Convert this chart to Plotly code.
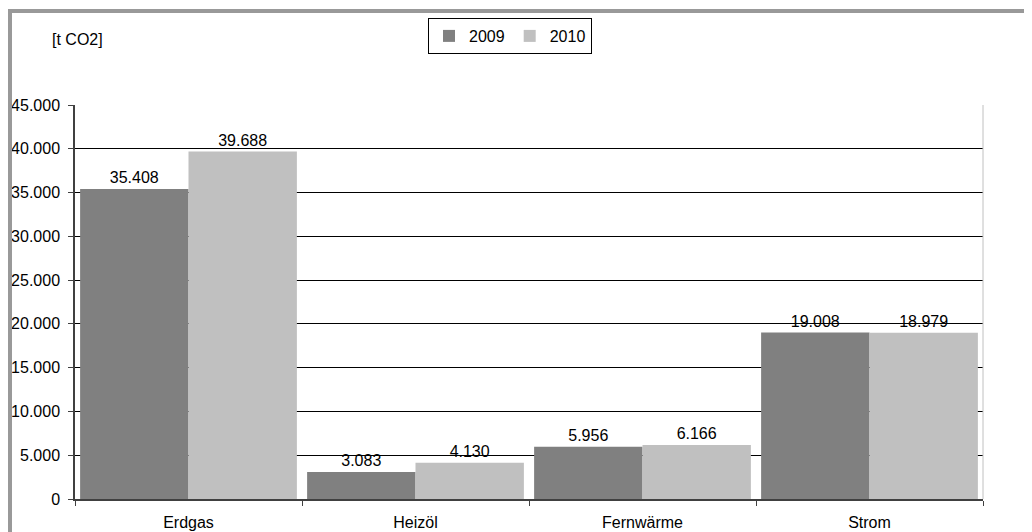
import plotly.graph_objects as go

categories = ["Erdgas", "Heizöl", "Fernwärme", "Strom"]
values_2009 = [35408, 3083, 5956, 19008]
values_2010 = [39688, 4130, 6166, 18979]
series_names = ["2009", "2010"]
y_tick_values = [0, 5000, 10000, 15000, 20000, 25000, 30000, 35000, 40000, 45000]

FONT = "Liberation Sans, Arial, sans-serif"
FS = 16

OFFX, OFFY = 8, 8
W, H = 1032 - 8, 532 - 8
# plot area in page coordinates
PX0, PX1, PY0, PY1 = 75, 983, 105, 499
L, R, T, B = PX0 - OFFX, W - (PX1 - OFFX), PY0 - OFFY, H - (PY1 - OFFY)

def px(X):
    return (X - PX0) / (PX1 - PX0)

def py(Y):
    return (PY1 - Y) / (PY1 - PY0)

fig = go.Figure()
for name, vals, col in [(series_names[0], values_2009, "#808080"),
                        (series_names[1], values_2010, "#c0c0c0")]:
    fig.add_trace(go.Bar(
        x=categories, y=vals, name=name,
        marker=dict(color=col, line=dict(width=0)),
        texttemplate="%{y:,}", textposition="outside",
        textfont=dict(family=FONT, size=FS, color="#000000"),
        cliponaxis=False,
    ))

fig.update_layout(
    width=W, height=H,
    margin=dict(l=L, r=R, t=T, b=B, autoexpand=False),
    paper_bgcolor="white", plot_bgcolor="white",
    separators=",.",
    barmode="group", bargap=0.045, bargroupgap=0,
    font=dict(family=FONT, size=FS, color="#000000"),
    showlegend=True,
    legend=dict(orientation="h", x=px(510), xanchor="center", y=py(18), yanchor="top",
                bordercolor="#000000", borderwidth=1, bgcolor="white",
                font=dict(family=FONT, size=FS), itemsizing="constant",
                tracegroupgap=0, itemwidth=30),
    xaxis=dict(showgrid=False, showline=True, linecolor="#404040", linewidth=1.5,
               ticks="outside", tickson="boundaries", ticklen=5, tickcolor="#404040",
               ticklabelstandoff=8, automargin=False,
               tickfont=dict(family=FONT, size=FS)),
    yaxis=dict(range=[0, 45000], tickvals=y_tick_values, tickformat=",d",
               showgrid=True, gridcolor="#000000", gridwidth=1,
               showline=True, linecolor="#404040", linewidth=1.5,
               ticks="outside", ticklen=5, tickcolor="#404040",
               ticklabelstandoff=5, automargin=False,
               zeroline=False, tickfont=dict(family=FONT, size=FS)),
    annotations=[dict(text="[t CO2]", x=px(50), y=py(39), xref="paper", yref="paper",
                      xanchor="left", yanchor="middle", showarrow=False,
                      font=dict(family=FONT, size=FS))],
    shapes=[
        dict(type="line", xref="paper", yref="paper", x0=1, x1=1, y0=0, y1=1,
             line=dict(color="#c0c0c0", width=1)),
        dict(type="rect", xref="paper", yref="paper",
             x0=px(10), x1=px(1045), y0=py(545), y1=py(11),
             line=dict(color="#999999", width=4)),
    ],
)

fig.write_html("out.html")
